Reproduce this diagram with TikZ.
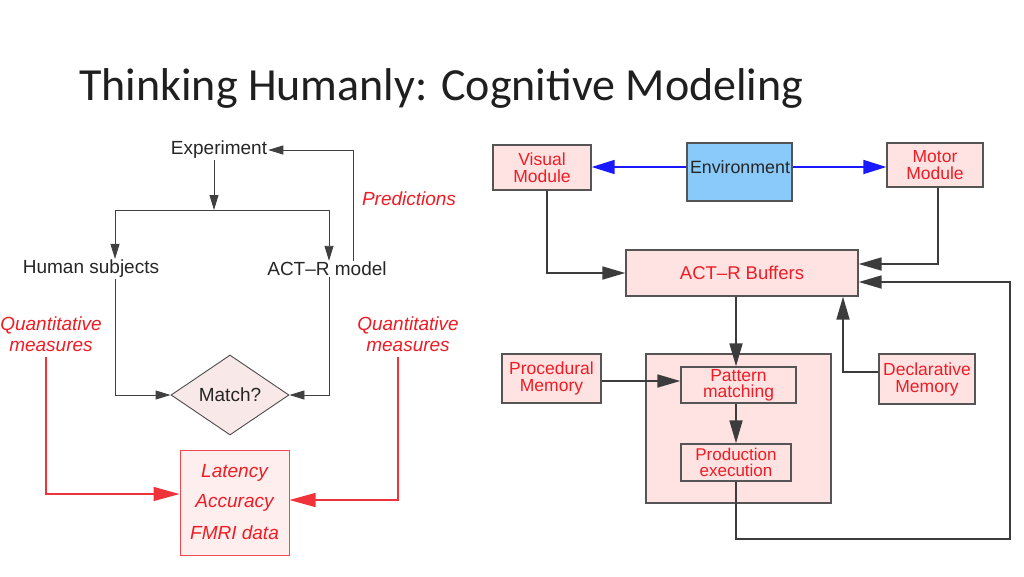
\documentclass[tikz,border=0pt]{standalone}
\usepackage{fontspec}
\setmainfont{Liberation Sans}
\newfontfamily\titlefont{Carlito}
\usetikzlibrary{arrows.meta,shapes.geometric}
\definecolor{dred}{RGB}{238,28,36}
\definecolor{boxpink}{RGB}{255,227,227}
\definecolor{diapink}{RGB}{248,232,232}
\definecolor{latpink}{RGB}{255,238,238}
\definecolor{envblue}{RGB}{138,202,250}
\definecolor{linegray}{RGB}{60,60,60}
\definecolor{bordergray}{RGB}{85,85,85}
\tikzset{
  lbl/.style={font=\fontsize{19}{21}\selectfont, inner sep=1pt, text=black!85},
  redlbl/.style={font=\fontsize{19}{21}\selectfont\itshape, inner sep=1pt, text=dred, align=center},
  larrow/.style={draw=black!75, line width=0.9pt, -{Triangle[length=15pt,width=9pt]}},
  redarrow/.style={draw=dred!90, line width=1.4pt, -{Triangle[length=26pt,width=14pt]}},
  rbox/.style={draw=bordergray, line width=1.4pt, fill=boxpink, text=dred, inner sep=0pt,
    font=\fontsize{17.5}{17}\selectfont, align=center},
  barrow/.style={draw=linegray, line width=1.8pt, -{Triangle[length=23pt,width=13pt]}},
  bluearrow/.style={draw=blue!90, line width=1.8pt, -{Triangle[length=23pt,width=14pt]}},
}
\begin{document}
\begin{tikzpicture}[x=1pt,y=-1pt]
\useasboundingbox[fill=white] (0,0) rectangle (1024,576);
% title
\node[anchor=base west, inner sep=0pt, font=\titlefont\fontsize{46}{50}\selectfont, text=black!88] (title) at (79,100) {Thinking Humanly: Cognitive Modeling};

% ---------- left diagram ----------
\node[lbl] (exp) at (219,150) {Experiment};
\node[lbl] (hum) at (91,269) {Human subjects};
\node[lbl] (act) at (327,269) {ACT–R model};
\node[diamond, draw=black!70, line width=0.9pt, fill=diapink, minimum width=118pt, minimum height=80pt, aspect=1.5, inner sep=0pt, font=\fontsize{19}{21}\selectfont, text=black!85] (match) at (230,395) {Match?};
\node[draw=dred!80, line width=1pt, fill=latpink, minimum width=109pt, minimum height=105pt, inner sep=0pt] (lat) at (234.5,502.5) {};
\node[redlbl] (latl1) at (234.5,473) {Latency};
\node[redlbl] (latl2) at (234.5,503) {Accuracy};
\node[redlbl] (latl3) at (234.5,533) {FMRI data};
\node[redlbl] (qL) at (51,334) {Quantitative\\measures};
\node[redlbl] (qR) at (408,334) {Quantitative\\measures};
\node[redlbl] (pred) at (409,199) {Predictions};
\coordinate (split) at (214,210);

\draw[larrow] ([xshift=26]act.north) |- (exp.east);
\draw[larrow] (exp.south -| split) -- (split);
\draw[larrow] (split) -| ([xshift=24]hum.north);
\draw[larrow] (split) -| ([xshift=2]act.north);
\draw[larrow] ([xshift=24]hum.south) |- (match.west);
\draw[larrow] ([xshift=2]act.south) |- (match.east);
\draw[redarrow] ([xshift=-5,yshift=-4]qL.south) |- ([yshift=8.5]lat.west);
\draw[redarrow] ([xshift=-10,yshift=-4]qR.south) |- ([yshift=2.5]lat.east);

% ---------- right diagram ----------
\node[rbox, minimum width=98pt, minimum height=45pt] (vis) at (542,167.5) {Visual\\Module};
\node[draw=bordergray, line width=1.4pt, fill=envblue, inner sep=0pt, minimum width=105pt, minimum height=58pt] (env) at (739.5,172) {};
\node[inner sep=0pt, font=\fontsize{17.8}{18}\selectfont, text=black!85] (envl) at (740,167) {Environment};
\node[rbox, minimum width=96pt, minimum height=44pt] (mot) at (935,165) {Motor\\Module};
\node[rbox, minimum width=232pt, minimum height=46pt, font=\fontsize{18.5}{18}\selectfont] (buf) at (742,273) {ACT–R Buffers};
\node[rbox, minimum width=185pt, minimum height=149pt] (prod) at (738.5,428.5) {};
\node[rbox, minimum width=115pt, minimum height=36pt, font=\fontsize{17.5}{16}\selectfont] (pat) at (738.5,385) {Pattern\\matching};
\node[rbox, minimum width=110pt, minimum height=37pt, font=\fontsize{17}{16.5}\selectfont] (exe) at (736,462.5) {Production\\execution};
\node[rbox, minimum width=99pt, minimum height=49pt] (proc) at (551.5,378.5) {Procedural\\Memory};
\node[rbox, minimum width=96pt, minimum height=50pt] (decl) at (927,379) {Declarative\\Memory};
\coordinate (fb) at (1010,539);

\draw[bluearrow] (env.west |- 0,167) -- (vis.east |- 0,167);
\draw[bluearrow] (env.east |- 0,167) -- (mot.west |- 0,167);
\draw[barrow] ([xshift=5]vis.south) |- (buf.west);
\draw[barrow] ([xshift=3]mot.south) |- ([yshift=9]buf.east);
\draw[barrow] (exe.south) |- (fb) |- ([yshift=-9]buf.east);
\draw[barrow] (buf.south -| exe.north) -- (exe.north |- pat.north);
\draw[barrow] (exe.north |- pat.south) -- (exe.north);
\draw[barrow] ([yshift=-2.5]proc.east) -- ([yshift=-2.5]proc.east -| pat.west);
\draw[barrow] ([yshift=7]decl.west) -| ([xshift=101]buf.south);
\end{tikzpicture}
\end{document}
